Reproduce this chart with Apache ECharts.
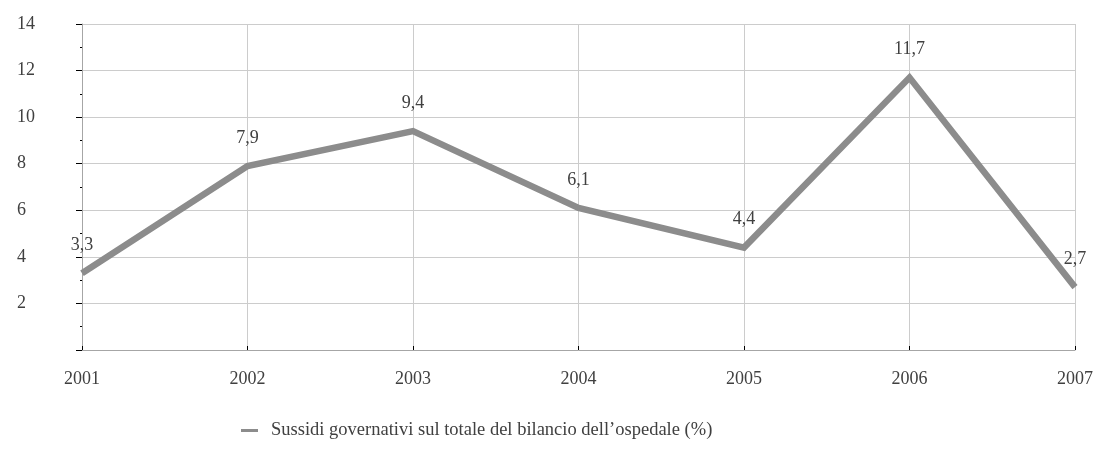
<!DOCTYPE html>
<html>
<head>
<meta charset="utf-8">
<script src="https://cdn.jsdelivr.net/npm/echarts@6/dist/echarts.min.js"></script>
<style>
html,body{margin:0;padding:0;background:#fff;}
#c{width:1096px;height:455px;}
</style>
</head>
<body>
<div id="c"></div>
<script>
const years = ['2001','2002','2003','2004','2005','2006','2007'];
const values = [3.3, 7.9, 9.4, 6.1, 4.4, 11.7, 2.7];
const seriesName = 'Sussidi governativi sul totale del bilancio dell\u2019ospedale (%)';
const yMin = 0, yMax = 14, yStep = 2;

const font = 'Liberation Serif';
const chart = echarts.init(document.getElementById('c'));
chart.setOption({
  animation: false,
  textStyle: {fontFamily: font},
  grid: {left: 82, right: 18, top: 24, bottom: 105, containLabel: false},
  legend: {
    bottom: 10, left: 236,
    itemWidth: 17, itemHeight: 3, itemGap: 10,
    icon: 'rect',
    textStyle: {fontFamily: font, fontSize: 18.5, color: '#404040', padding: [0, 0, 0, 8]},
    data: [{name: seriesName, icon: 'rect'}]
  },
  xAxis: {
    type: 'category', data: years, boundaryGap: false,
    axisLine: {lineStyle: {color: '#a6a6a6', width: 1}},
    axisTick: {show: true, inside: true, length: 4, alignWithLabel: true, lineStyle: {color: '#000'}},
    axisLabel: {fontFamily: font, fontSize: 18, color: '#404040', margin: 20},
    splitLine: {show: true, lineStyle: {color: '#cccccc', width: 1}}
  },
  yAxis: {
    type: 'value', min: yMin, max: yMax, interval: yStep,
    axisLine: {show: true, lineStyle: {color: '#a6a6a6', width: 1}},
    axisTick: {show: true, length: 6, lineStyle: {color: '#000'}},
    minorTick: {show: true, splitNumber: 2, length: 2, lineStyle: {color: '#000'}},
    axisLabel: {fontFamily: font, fontSize: 18, color: '#404040', margin: 65, align: 'left',
      formatter: v => v === 0 ? '' : String(v)},
    splitLine: {show: true, lineStyle: {color: '#cccccc', width: 1}}
  },
  series: [{
    name: seriesName, type: 'line', data: values,
    symbol: 'circle', symbolSize: 0, showSymbol: true,
    lineStyle: {color: '#8c8c8c', width: 6.5, join: 'miter'},
    itemStyle: {color: '#8c8c8c'},
    label: {show: true, position: 'top', distance: 19, fontFamily: font, fontSize: 18, color: '#404040',
      formatter: p => String(p.value).replace('.', ',')}
  }]
});
</script>
</body>
</html>
